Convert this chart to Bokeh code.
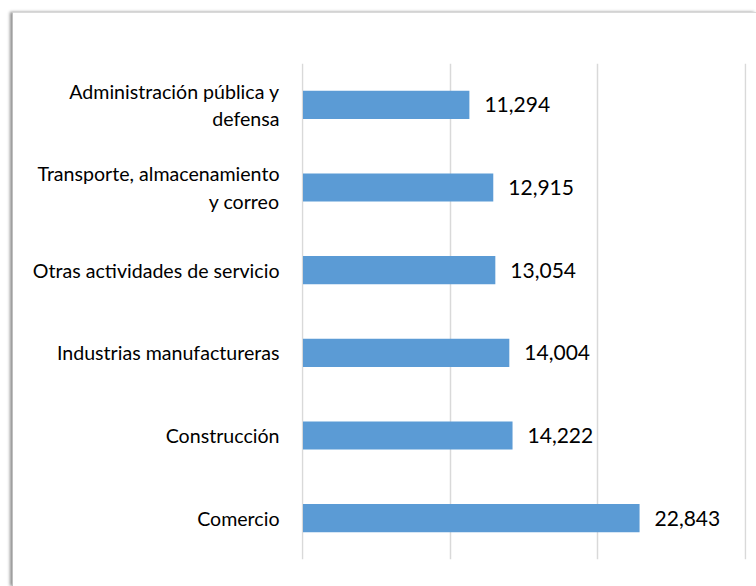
from bokeh.plotting import figure
from bokeh.models import ColumnDataSource, FactorRange, Range1d, FixedTicker
from bokeh.core.properties import value
from bokeh.embed import file_html
from bokeh.resources import INLINE

# Data (bottom to top)
categories = ["Comercio", "Construcción", "Industrias manufactureras",
              "Otras actividades de servicio",
              "Transporte, almacenamiento\ny correo",
              "Administración pública y\ndefensa"]
values = [22843, 14222, 14004, 13054, 12915, 11294]
value_labels = ["{:,}".format(v) for v in values]
grid_ticks = [0, 10000, 20000, 30000]

FONT = "Lato"
BAR_COLOR = "#5B9BD5"

source = ColumnDataSource(dict(cat=categories, val=values, lab=value_labels))

p = figure(width=744, height=574, output_backend="svg", toolbar_location=None,
           y_range=FactorRange(factors=categories), x_range=Range1d(-100, 30100),
           min_border_left=288, min_border_top=50, min_border_right=11,
           min_border_bottom=28)
p.margin = (12, 0, 0, 12)
p.styles = {"border-top": "1px solid #d9d9d9", "border-left": "1px solid #bfbfbf",
            "box-shadow": "-2px 0px 3px rgba(0,0,0,0.45)"}

p.hbar(y="cat", right="val", left=0, height=0.34, source=source,
       fill_color=BAR_COLOR, line_color=None)

p.text(x="val", y="cat", text="lab", source=source, x_offset=15,
       text_align="left", text_baseline="middle", text_font=value(FONT),
       text_font_size="21px", text_color="#000000")

p.xaxis.visible = False
p.xaxis.ticker = FixedTicker(ticks=grid_ticks)
p.xgrid.ticker = FixedTicker(ticks=grid_ticks)
p.xgrid.grid_line_color = "#d9d9d9"
p.xgrid.grid_line_width = 1.5
p.ygrid.grid_line_color = None

yax = p.yaxis[0]
yax.axis_line_color = None
yax.major_tick_line_color = None
yax.minor_tick_line_color = None
yax.major_tick_out = 0
yax.major_tick_in = 0
yax.major_label_standoff = 22
yax.major_label_text_font = FONT
yax.major_label_text_font_size = "19.6px"
yax.major_label_text_color = "#000000"
yax.major_label_text_align = "center"

p.outline_line_color = None
p.background_fill_color = "white"
p.border_fill_color = "white"

open("out.html", "w").write(file_html(p, INLINE))
